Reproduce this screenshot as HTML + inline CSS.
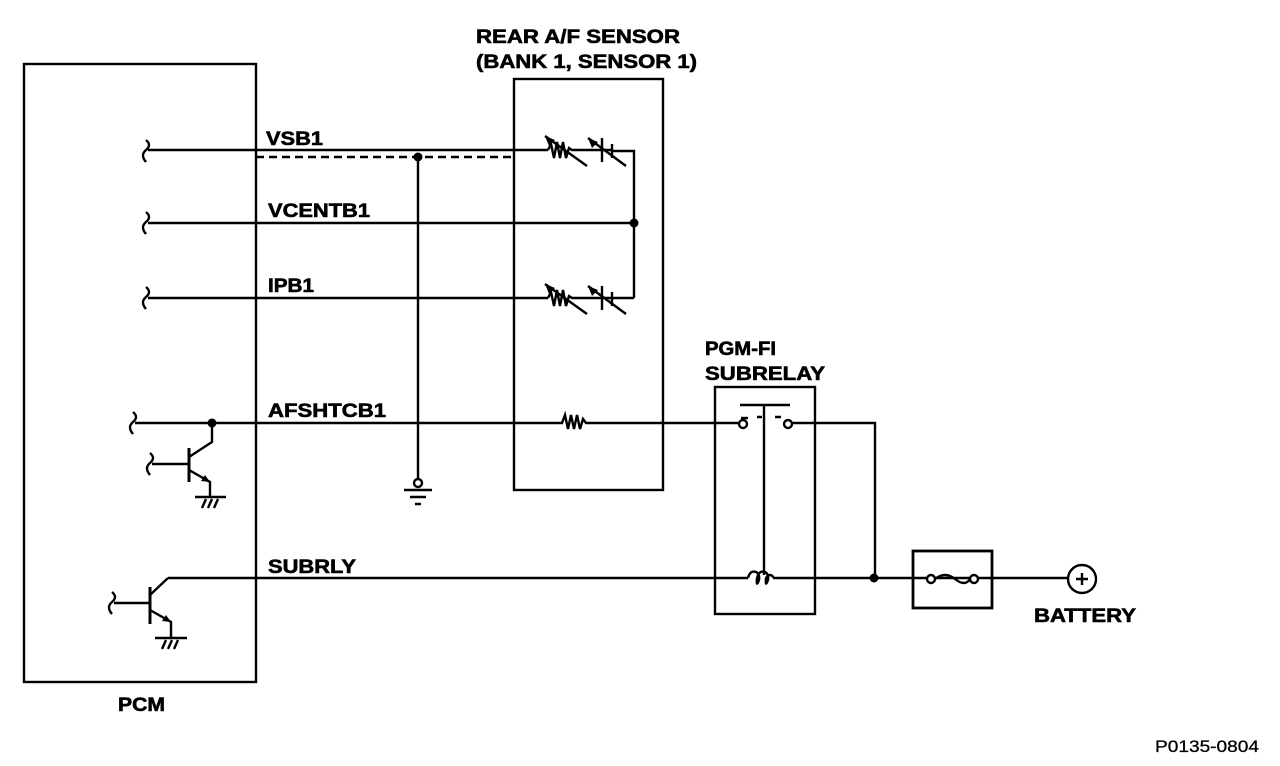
<!DOCTYPE html>
<html><head><style>
html,body{margin:0;padding:0;background:#fff;}
svg{display:block}
text{font-family:"Liberation Sans",Arial,sans-serif;font-weight:bold;font-size:19px;fill:#000;stroke:#000;stroke-width:0.6}
</style></head><body>
<svg width="1280" height="766" viewBox="0 0 1280 766" xmlns="http://www.w3.org/2000/svg">
<g stroke="#000" stroke-width="2.4" fill="none">
<rect x="24" y="64" width="232" height="618"/>
<rect x="514" y="79" width="149" height="411"/>
<rect x="715" y="387" width="100" height="227"/>
<rect x="913" y="551" width="79" height="57" stroke-width="2.8"/>
<path d="M146,140 q6,5 0,10 q-6,5 0,12"/>
<path d="M146,212 q6,5 0,10 q-6,5 0,12"/>
<path d="M146,287 q6,5 0,10 q-6,5 0,12"/>
<path d="M133,412 q6,5 0,10 q-6,5 0,12"/>
<path d="M150,453 q6,5 0,10 q-6,5 0,12"/>
<path d="M112,592 q6,5 0,10 q-6,5 0,12"/>
<path d="M148,150 H548"/>
<path d="M256,157 H514" stroke-dasharray="8,5"/>
<path d="M418,157 V480"/>
<path d="M548,150 l3,-6 3,14 3,-16 3,16 3,-16 3,16 3,-10 3,2 H612"/>
<path d="M545,136 L587,166"/>
<path d="M602,138 V162"/>
<path d="M612,144 V158"/>
<path d="M588,138 L626,166"/>
<path d="M612,151 H634 V298"/>
<path d="M148,223 H634"/>
<path d="M148,298 H548"/>
<path d="M548,298 l3,-6 3,14 3,-16 3,16 3,-16 3,16 3,-10 3,2 H612"/>
<path d="M545,284 L587,314"/>
<path d="M602,286 V310"/>
<path d="M612,292 V306"/>
<path d="M588,286 L626,314"/>
<path d="M612,298 H634"/>
<circle cx="418" cy="483" r="4"/>
<path d="M404,490 H432 M410,497 H426 M415,504 H421" stroke-width="2.5"/>
<path d="M135,423 H562 l3,-8 3,14 3,-14 3,14 3,-14 3,14 3,-10 3,4 H739"/>
<path d="M212,423 V442 L189,457"/>
<path d="M189,448 V482" stroke-width="3"/>
<path d="M152,464 H189"/>
<path d="M189,470 L210,482 V497"/>
<path d="M195,497 H226"/>
<path d="M202,508 l4,-9 M208,508 l4,-9 M214,508 l4,-9"/>
<circle cx="743" cy="424" r="4"/>
<circle cx="788" cy="424" r="4"/>
<path d="M740,405 H790"/>
<path d="M757,417 H762 M775,417 H781"/>
<path d="M741,418 H748"/>
<path d="M764,405 V575"/>
<path d="M792,423 H875 V578"/>
<path d="M168,578 H748"/>
<path d="M748,578 q2,-8 8,-6 q4,2 3,8 q-3,8 -2,-2 q2,-8 8,-6 q4,2 3,8 q-3,8 -2,-2 q4,-6 8,0 H1068"/>
<path d="M168,578 L150,595"/>
<path d="M150,587 V624" stroke-width="3"/>
<path d="M114,603 H150"/>
<path d="M150,610 L171,622 V638"/>
<path d="M155,638 H187"/>
<path d="M162,649 l4,-9 M168,649 l4,-9 M174,649 l4,-9"/>
<circle cx="931" cy="579" r="4" fill="#fff"/>
<circle cx="974" cy="579" r="4" fill="#fff"/>
<path d="M935,579 q10,-8 20,0 q10,8 15,0"/>
<circle cx="1082" cy="579" r="14"/>
<path d="M1076,579 H1088 M1082,573 V585"/>
</g>
<g fill="#000">
<circle cx="418" cy="157" r="4.5"/>
<circle cx="634" cy="223" r="4.5"/>
<circle cx="212" cy="423" r="4.5"/>
<circle cx="874" cy="578" r="4.5"/>
<path d="M545,136 l10,4 -6,6z"/>
<path d="M588,138 l10,4 -6,6z"/>
<path d="M545,284 l10,4 -6,6z"/>
<path d="M588,286 l10,4 -6,6z"/>
<path d="M210,482 l-9,-1 4,-6z"/>
<path d="M171,622 l-9,-1 4,-6z"/>
</g>
<text x="476" y="43" textLength="204" lengthAdjust="spacingAndGlyphs">REAR A/F SENSOR</text>
<text x="476" y="68" textLength="221" lengthAdjust="spacingAndGlyphs">(BANK 1, SENSOR 1)</text>
<text x="266" y="145" textLength="57" lengthAdjust="spacingAndGlyphs">VSB1</text>
<text x="268" y="217" textLength="102" lengthAdjust="spacingAndGlyphs">VCENTB1</text>
<text x="268" y="292" textLength="46" lengthAdjust="spacingAndGlyphs">IPB1</text>
<text x="268" y="417" textLength="118" lengthAdjust="spacingAndGlyphs">AFSHTCB1</text>
<text x="268" y="573" textLength="88" lengthAdjust="spacingAndGlyphs">SUBRLY</text>
<text x="705" y="355" textLength="71" lengthAdjust="spacingAndGlyphs">PGM-FI</text>
<text x="705" y="380" textLength="120" lengthAdjust="spacingAndGlyphs">SUBRELAY</text>
<text x="1034" y="622" textLength="102" lengthAdjust="spacingAndGlyphs">BATTERY</text>
<text x="118" y="711" textLength="47" lengthAdjust="spacingAndGlyphs">PCM</text>
<text x="1155" y="752" textLength="104" lengthAdjust="spacingAndGlyphs" style="font-weight:normal;font-size:17px;stroke-width:0.3">P0135-0804</text>
</svg>
</body></html>
